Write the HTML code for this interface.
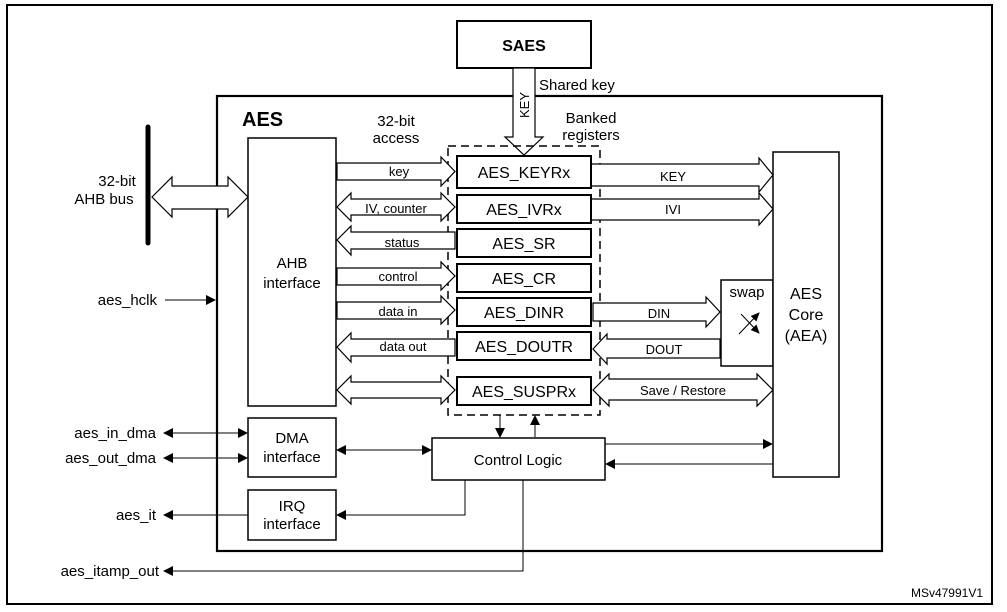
<!DOCTYPE html>
<html><head><meta charset="utf-8"><style>
html,body{margin:0;padding:0;background:#fff;}
svg{display:block;font-family:"Liberation Sans",Arial,sans-serif;}
</style></head><body>
<svg width="1007" height="612" viewBox="0 0 1007 612" xmlns="http://www.w3.org/2000/svg">
<defs>
<marker id="ah" markerWidth="10" markerHeight="10" refX="9" refY="5" orient="auto-start-reverse" markerUnits="userSpaceOnUse"><path d="M0,0 L10,5 L0,10 z" fill="#000"/></marker>
<marker id="sm" markerWidth="9" markerHeight="8" refX="8" refY="4" orient="auto" markerUnits="userSpaceOnUse"><path d="M0,0 L9,4 L0,8 z" fill="#000"/></marker>
</defs>
<rect x="7" y="5" width="985" height="599" fill="none" stroke="#000" stroke-width="2"/>
<rect x="217" y="96" width="665" height="455" fill="none" stroke="#000" stroke-width="2.2"/>
<text x="242" y="126" font-size="20" font-weight="bold">AES</text>
<rect x="457" y="21" width="134" height="47" fill="#fff" stroke="#000" stroke-width="2"/>
<text x="524" y="51" font-size="16" font-weight="bold" text-anchor="middle">SAES</text>
<polygon points="513,68 535,68 535,137 543,137 524,155 505,137 513,137" fill="#fff" stroke="#000" stroke-width="1.2"/>
<text transform="translate(529,118) rotate(-90)" font-size="13" >KEY</text>
<text x="539" y="90" font-size="15">Shared key</text>
<text x="591" y="123" font-size="15" text-anchor="middle">Banked</text>
<text x="591" y="140" font-size="15" text-anchor="middle">registers</text>
<text x="396" y="126" font-size="15" text-anchor="middle">32-bit</text>
<text x="396" y="143" font-size="15" text-anchor="middle">access</text>
<rect x="448" y="146" width="152" height="269" fill="none" stroke="#000" stroke-width="1.5" stroke-dasharray="8,5"/>
<line x1="148" y1="127" x2="148" y2="243" stroke="#000" stroke-width="5" stroke-linecap="round"/>
<text x="117" y="186" font-size="15" text-anchor="middle">32-bit</text>
<text x="104" y="204" font-size="15" text-anchor="middle">AHB bus</text>
<polygon points="152,197 172,177 172,186 228,186 228,177 248,197 228,217 228,209 172,209 172,217" fill="#fff" stroke="#000" stroke-width="1.2"/>
<rect x="248" y="138" width="88" height="268" fill="#fff" stroke="#000" stroke-width="1.5"/>
<text x="292" y="268" font-size="15" text-anchor="middle">AHB</text>
<text x="292" y="288" font-size="15" text-anchor="middle">interface</text>
<g fill="#fff" stroke="#000" stroke-width="1.2">
<polygon points="337,163 441,163 441,157 455,171.5 441,186 441,180 337,180"/>
<polygon points="337,207 351,193 351,199 441,199 441,193 455,207 441,221 441,215 351,215 351,221"/>
<polygon points="337,240 351,226 351,232 455,232 455,249 351,249 351,255"/>
<polygon points="337,268 441,268 441,262 455,276 441,290 441,285 337,285"/>
<polygon points="337,302 441,302 441,296 455,310 441,324 441,319 337,319"/>
<polygon points="337,347 351,333 351,339 455,339 455,356 351,356 351,362"/>
<polygon points="337,390 351,376 351,382 441,382 441,376 455,390 441,404 441,398 351,398 351,404"/>
<polygon points="591,164 759,164 759,158 773,175 759,192 759,186 591,186"/>
<polygon points="591,199 759,199 759,193 773,209 759,225 759,220 591,220"/>
<polygon points="593,303 706,303 706,297 720,312 706,327 706,321 593,321"/>
<polygon points="593,349 607,334 607,339 720,339 720,358 607,358 607,364"/>
<polygon points="593,390 609,374 609,379 757,379 757,374 773,390 757,406 757,400 609,400 609,406"/>
</g>
<g font-size="13" text-anchor="middle">
<text x="399" y="176">key</text>
<text x="396" y="213">IV, counter</text>
<text x="402" y="247">status</text>
<text x="398" y="281">control</text>
<text x="398" y="316">data in</text>
<text x="403" y="351">data out</text>
<text x="673" y="181">KEY</text>
<text x="673" y="214">IVI</text>
<text x="659" y="318">DIN</text>
<text x="664" y="354">DOUT</text>
<text x="683" y="395">Save / Restore</text>
</g>
<g fill="#fff" stroke="#000" stroke-width="2">
<rect x="457" y="156" width="134" height="32"/>
<rect x="457" y="195" width="134" height="28"/>
<rect x="457" y="229" width="134" height="28"/>
<rect x="457" y="264" width="134" height="28"/>
<rect x="457" y="298" width="134" height="28"/>
<rect x="457" y="332" width="134" height="28"/>
<rect x="457" y="377" width="134" height="28"/>
</g>
<g font-size="16" text-anchor="middle">
<text x="524" y="178">AES_KEYRx</text>
<text x="524" y="215">AES_IVRx</text>
<text x="524" y="249">AES_SR</text>
<text x="524" y="284">AES_CR</text>
<text x="524" y="318">AES_DINR</text>
<text x="524" y="352">AES_DOUTR</text>
<text x="524" y="397">AES_SUSPRx</text>
</g>
<rect x="721" y="280" width="52" height="86" fill="#fff" stroke="#000" stroke-width="1.5"/>
<text x="747" y="297" font-size="15" text-anchor="middle">swap</text>
<line x1="739" y1="334" x2="759" y2="313" stroke="#000" stroke-width="1" marker-end="url(#sm)"/>
<line x1="741" y1="314" x2="759" y2="333" stroke="#000" stroke-width="1" marker-end="url(#sm)"/>
<rect x="773" y="152" width="66" height="325" fill="#fff" stroke="#000" stroke-width="1.5"/>
<text x="806" y="299" font-size="16" text-anchor="middle">AES</text>
<text x="806" y="320" font-size="16" text-anchor="middle">Core</text>
<text x="806" y="341" font-size="16" text-anchor="middle">(AEA)</text>
<rect x="248" y="418" width="88" height="59" fill="#fff" stroke="#000" stroke-width="1.5"/>
<text x="292" y="443" font-size="15" text-anchor="middle">DMA</text>
<text x="292" y="462" font-size="15" text-anchor="middle">interface</text>
<rect x="248" y="490" width="88" height="50" fill="#fff" stroke="#000" stroke-width="1.5"/>
<text x="292" y="511" font-size="15" text-anchor="middle">IRQ</text>
<text x="292" y="529" font-size="15" text-anchor="middle">interface</text>
<rect x="432" y="438" width="173" height="42" fill="#fff" stroke="#000" stroke-width="1.5"/>
<text x="518" y="465" font-size="15" text-anchor="middle">Control Logic</text>
<g stroke="#000" stroke-width="1" fill="none">
<line x1="500" y1="415" x2="500" y2="437" marker-end="url(#ah)"/>
<line x1="535" y1="437" x2="535" y2="416" marker-end="url(#ah)"/>
<line x1="337" y1="450" x2="431" y2="450" marker-start="url(#ah)" marker-end="url(#ah)"/>
<line x1="605" y1="444" x2="772" y2="444" marker-end="url(#ah)"/>
<line x1="773" y1="464" x2="606" y2="464" marker-end="url(#ah)"/>
<polyline points="465,480 465,515 337,515" marker-end="url(#ah)"/>
<polyline points="523,480 523,571 164,571" marker-end="url(#ah)"/>
<line x1="248" y1="515" x2="164" y2="515" marker-end="url(#ah)"/>
<line x1="164" y1="433" x2="247" y2="433" marker-start="url(#ah)" marker-end="url(#ah)"/>
<line x1="164" y1="458" x2="247" y2="458" marker-start="url(#ah)" marker-end="url(#ah)"/>
<line x1="165" y1="300" x2="215" y2="300" marker-end="url(#ah)"/>
</g>
<g font-size="15" text-anchor="end">
<text x="157" y="305">aes_hclk</text>
<text x="156" y="438">aes_in_dma</text>
<text x="156" y="463">aes_out_dma</text>
<text x="156" y="520">aes_it</text>
<text x="159" y="576">aes_itamp_out</text>
</g>
<text x="983" y="597" font-size="12" text-anchor="end">MSv47991V1</text>
</svg>
</body></html>
